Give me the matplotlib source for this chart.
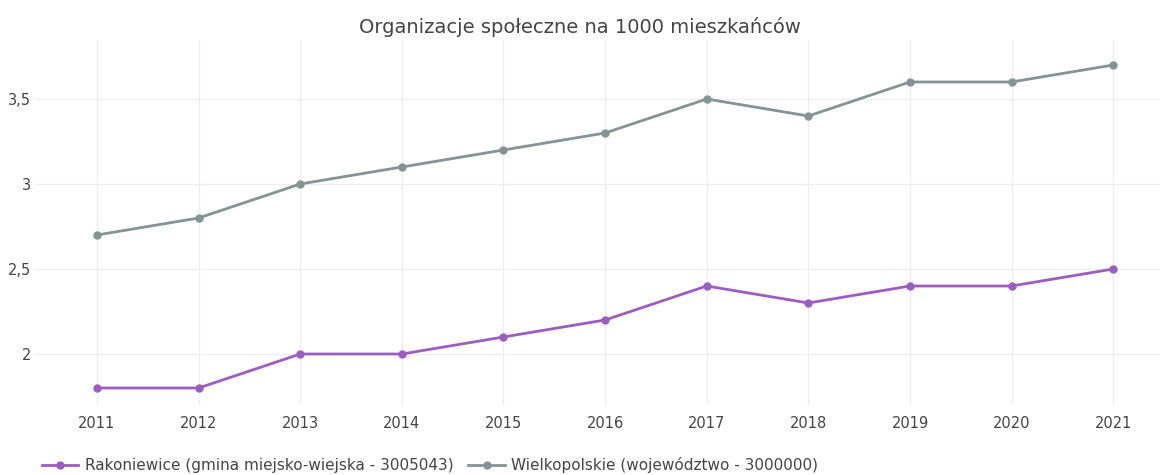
import matplotlib
matplotlib.use("Agg")
import matplotlib.pyplot as plt
from matplotlib.ticker import FuncFormatter

years = [2011, 2012, 2013, 2014, 2015, 2016, 2017, 2018, 2019, 2020, 2021]
rakoniewice = [1.8, 1.8, 2.0, 2.0, 2.1, 2.2, 2.4, 2.3, 2.4, 2.4, 2.5]
wielkopolskie = [2.7, 2.8, 3.0, 3.1, 3.2, 3.3, 3.5, 3.4, 3.6, 3.6, 3.7]
yticks = [2.0, 2.5, 3.0, 3.5]
title = "Organizacje społeczne na 1000 mieszkańców"
label_r = "Rakoniewice (gmina miejsko-wiejska - 3005043)"
label_w = "Wielkopolskie (województwo - 3000000)"

plt.rcParams['font.family'] = ['DejaVu Sans']
fig = plt.figure(figsize=(11.6, 4.75), dpi=100)
W, H = 1160, 475
ax = fig.add_axes([35 / W, 1 - 405 / H, (1160 - 35) / W, (405 - 40) / H])

ax.plot(years, rakoniewice, color="#9d5cc0", lw=2, marker="o", ms=5, label=label_r)
ax.plot(years, wielkopolskie, color="#849393", lw=2, marker="o", ms=5, label=label_w)

ax.set_xlim(2010.39, 2021.46)
ax.set_ylim(1.7, 3.847)
ax.set_xticks(years)
ax.set_yticks(yticks)
ax.yaxis.set_major_formatter(FuncFormatter(lambda v, p: ("%g" % v).replace(".", ",")))
ax.grid(True, color="#eeeeee", lw=1)
ax.set_axisbelow(True)
for s in ax.spines.values():
    s.set_visible(False)
ax.tick_params(length=0, labelsize=10.5, colors="#444444", pad=8)
ax.tick_params(axis="y", pad=3)

fig.text(0.5, 1 - 27 / H, title, ha="center", va="center", fontsize=14, color="#444444")
leg = fig.legend(loc="center left", bbox_to_anchor=(28 / W, 1 - 465 / H), ncol=2, frameon=False,
                 fontsize=11, handlelength=2.4, columnspacing=1.0, handletextpad=0.4)
for t in leg.get_texts():
    t.set_color("#444444")
fig.savefig("out.png", dpi=100)
